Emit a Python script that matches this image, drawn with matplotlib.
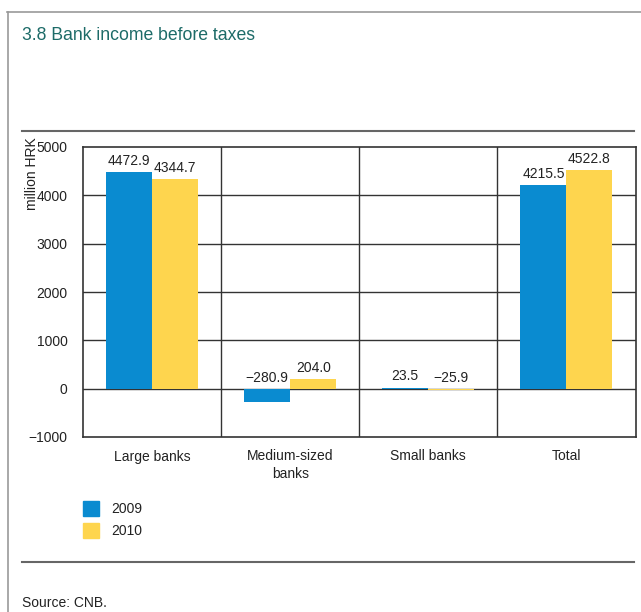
import matplotlib
matplotlib.use("Agg")
import matplotlib.pyplot as plt
from matplotlib.lines import Line2D
from matplotlib.patches import Patch
import numpy as np

plt.rcParams['font.family'] = ['Liberation Sans', 'DejaVu Sans']

categories = ["Large banks", "Medium-sized\nbanks", "Small banks", "Total"]
series_names = ["2009", "2010"]
values_2009 = [4472.9, -280.9, 23.5, 4215.5]
values_2010 = [4344.7, 204.0, -25.9, 4522.8]
labels_2009 = ["4472.9", "\u2212280.9", "23.5", "4215.5"]
labels_2010 = ["4344.7", "204.0", "\u221225.9", "4522.8"]
yticks = [-1000, 0, 1000, 2000, 3000, 4000, 5000]
ytick_labels = ["\u22121000", "0", "1000", "2000", "3000", "4000", "5000"]

blue = "#0a8bd0"
yellow = "#fed54e"
text_col = "#222222"
grid_col = "#333333"

W, H = 641, 612
fig = plt.figure(figsize=(W / 100, H / 100), dpi=100)

def fx(px):
    return px / W

def fy(py):
    return 1 - py / H

ax = fig.add_axes([fx(83), fy(437), fx(635.5) - fx(83), fy(147) - fy(437)])

x = np.arange(len(categories))
bw = 1 / 3
ax.bar(x - bw / 2, values_2009, width=bw, color=blue, zorder=3, label=series_names[0])
ax.bar(x + bw / 2, values_2010, width=bw, color=yellow, zorder=3, label=series_names[1])

for xi, v, lab in zip(x - bw / 2, values_2009, labels_2009):
    ax.annotate(lab, (xi, max(v, 0)), xytext=(0, 3), textcoords="offset points",
                ha="center", va="bottom", fontsize=10, color=text_col, zorder=4)
for xi, v, lab in zip(x + bw / 2, values_2010, labels_2010):
    ax.annotate(lab, (xi, max(v, 0)), xytext=(0, 3), textcoords="offset points",
                ha="center", va="bottom", fontsize=10, color=text_col, zorder=4)

ax.set_xlim(-0.5, len(categories) - 0.5)
ax.set_ylim(-1000, 5000)
ax.set_yticks(yticks)
ax.set_yticklabels(ytick_labels, fontsize=10, color=text_col)
ax.set_xticks(x)
ax.set_xticklabels(categories, fontsize=10, color=text_col, linespacing=1.3)
ax.tick_params(axis="both", length=0)
ax.tick_params(axis="y", pad=11)
ax.tick_params(axis="x", pad=9)

for yv in yticks[1:-1]:
    ax.axhline(yv, color=grid_col, lw=1.0, zorder=1)
for xv in x[:-1] + 0.5:
    ax.axvline(xv, color=grid_col, lw=1.0, zorder=1)
for s in ax.spines.values():
    s.set_color(grid_col)
    s.set_linewidth(1.2)

fig.text(fx(32), fy(137), "million HRK", rotation=90, ha="center", va="top",
         fontsize=10, color=text_col)

fig.text(fx(22), fy(35), "3.8 Bank income before taxes", ha="left", va="center",
         fontsize=12.7, color="#1d6b68")
fig.text(fx(22), fy(603), "Source: CNB.", ha="left", va="center",
         fontsize=10, color=text_col)

# frame lines of the panel
fig.add_artist(Line2D([fx(7), 1], [fy(12), fy(12)], color="#999999", lw=1.2))
fig.add_artist(Line2D([fx(8), fx(8)], [fy(12), 0], color="#999999", lw=1.2))
fig.add_artist(Line2D([fx(22), fx(634)], [fy(131), fy(131)], color="#666666", lw=1.5))
fig.add_artist(Line2D([fx(22), fx(634)], [fy(562), fy(562)], color="#666666", lw=1.5))

handles = [Patch(color=blue), Patch(color=yellow)]
fig.legend(handles, series_names, loc="upper left",
           bbox_to_anchor=(fx(83), fy(501)), frameon=False, fontsize=10,
           handlelength=1.15, handleheight=1.25, handletextpad=0.85,
           labelspacing=0.5, borderpad=0, borderaxespad=0,
           labelcolor=text_col)

fig.savefig("out.png", dpi=100)
